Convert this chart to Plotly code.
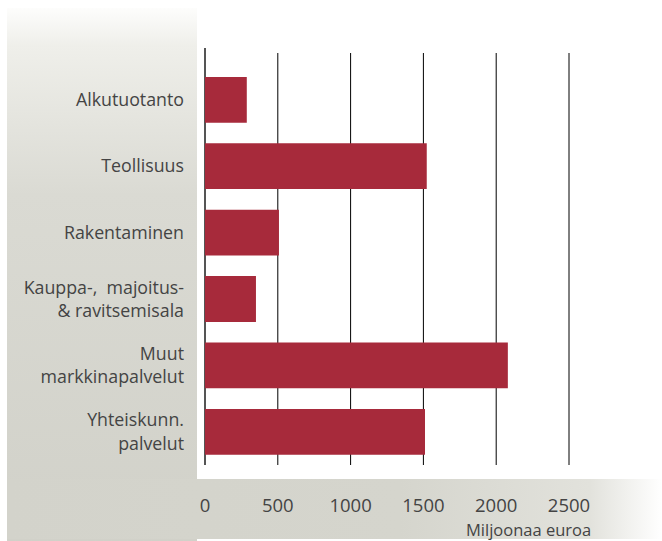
import base64
import plotly.graph_objects as go

# arvonlisäys toimialoittain, miljoonaa euroa
toimialat = [
    "Alkutuotanto",
    "Teollisuus",
    "Rakentaminen",
    "Kauppa-,  majoitus-<br>& ravitsemisala",
    "Muut<br>markkinapalvelut",
    "Yhteiskunn.<br>palvelut",
]
arvot = [287, 1523, 508, 350, 2080, 1511]
tick_arvot = [0, 500, 1000, 1500, 2000, 2500]

W, H = 662, 541
L, R, T, B = 197, 0, 48, 76
pw, ph = W - L - R, H - T - B

# harmaa tausta liukuvärein (svg-kuvana taustalle)
svg = f"""<svg xmlns="http://www.w3.org/2000/svg" width="{W}" height="{H}">
<defs>
<linearGradient id="v" x1="0" y1="0" x2="0" y2="1">
<stop offset="0" stop-color="#fdfdfc"/>
<stop offset="0.07" stop-color="#efefea"/>
<stop offset="0.35" stop-color="#dadad3"/>
<stop offset="1" stop-color="#d1d1c9"/>
</linearGradient>
<linearGradient id="h" x1="0" y1="0" x2="1" y2="0">
<stop offset="0" stop-color="#d3d3cb"/>
<stop offset="0.6" stop-color="#d5d5cd"/>
<stop offset="0.89" stop-color="#e2e2dc"/>
<stop offset="1" stop-color="#ffffff"/>
</linearGradient>
</defs>
<rect x="7" y="8" width="190" height="{H - 8}" fill="url(#v)"/>
<rect x="7" y="479" width="{W - 7}" height="60" fill="url(#h)"/>
</svg>"""
svg_uri = "data:image/svg+xml;base64," + base64.b64encode(svg.encode()).decode()

fig = go.Figure(go.Bar(
    x=arvot,
    y=toimialat,
    orientation="h",
    width=0.69,
    marker=dict(color="#a72a3b", line=dict(width=0)),
    hoverinfo="x+y",
))

for v in tick_arvot[1:]:
    fig.add_shape(type="line", xref="x", yref="paper", x0=v, x1=v, y0=0, y1=0.988,
                  line=dict(color="#000", width=1), layer="below")

fig.add_annotation(text="Miljoonaa euroa", xref="paper", yref="paper",
                   x=(528 - L) / pw, y=-(529 - T - ph) / ph, xanchor="center", yanchor="middle",
                   showarrow=False, font=dict(size=16.5, color="#444"))

fig.add_layout_image(dict(
    source=svg_uri, xref="paper", yref="paper",
    x=-L / pw, y=1 + T / ph, sizex=W / pw, sizey=H / ph,
    xanchor="left", yanchor="top", sizing="stretch", layer="below",
))

fig.update_layout(
    width=W, height=H,
    margin=dict(l=L, r=R, t=T, b=B),
    paper_bgcolor="white",
    plot_bgcolor="white",
    showlegend=False,
    font=dict(family="Open Sans, Lato, sans-serif", size=17.8, color="#444"),
    bargap=0.3,
)
fig.update_xaxes(
    range=[(L - 205) / 0.1456, (W - R - 205) / 0.1456],
    tickvals=tick_arvot,
    showgrid=False,
    zeroline=True, zerolinecolor="#555", zerolinewidth=2,
    showline=False,
    ticks="",
    ticklabelstandoff=27,
    tickfont=dict(size=18.5),
)
fig.update_yaxes(
    range=[5.5, -0.78],
    categoryorder="array", categoryarray=toimialat,
    showgrid=False, zeroline=False, showline=False,
    ticks="",
    ticklabelstandoff=12,
)

fig.write_html("out.html", config={"displayModeBar": False},
               post_script="document.body.style.margin='0';")
